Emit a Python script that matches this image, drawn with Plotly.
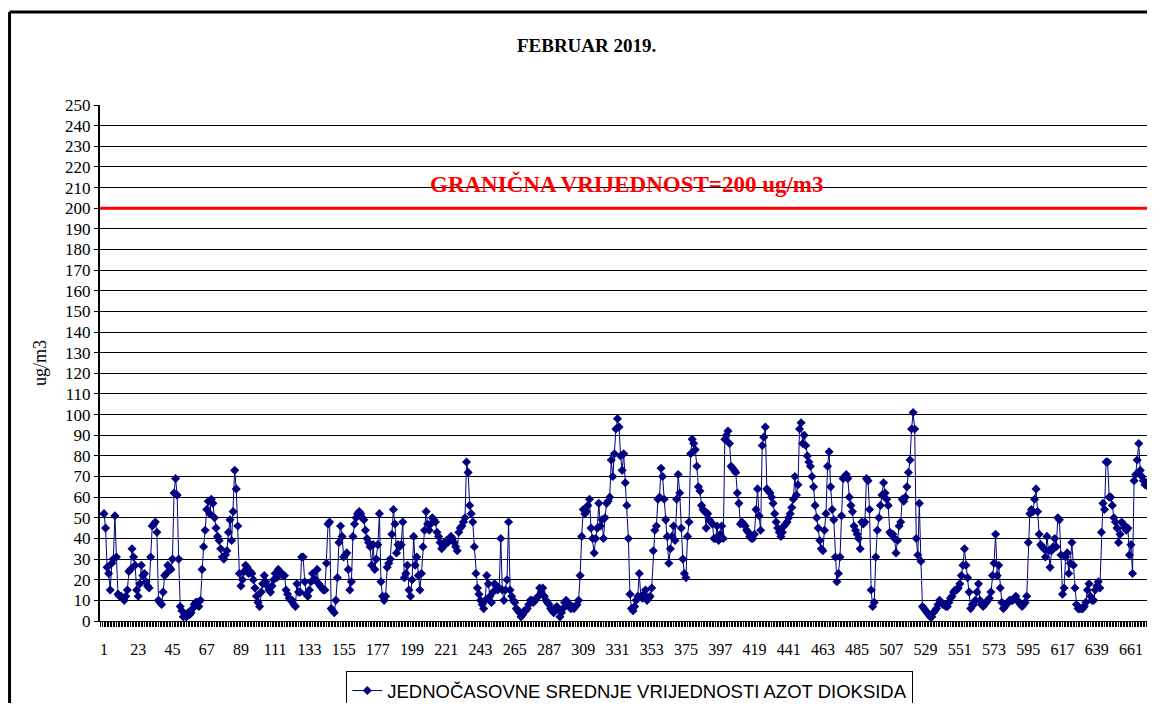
import plotly.graph_objects as go

# hourly NO2 means, february 2019
week1 = [52, 45, 26, 23, 15, 28, 30, 51, 31, 13, 12, 12, 11, 10, 12, 15, 24, 25, 35, 31, 27, 15, 12, 18,
         27, 22, 23, 19, 17, 16, 31, 46, 47, 48, 43, 10, 9, 8, 14, 22, 23, 27, 26, 25, 30, 62, 69, 61, 30, 7, 5, 2, 3, 2, 4,
         3, 4, 6, 8, 9, 9, 7, 10, 25, 36, 44, 54, 58, 52, 59, 57, 50, 45, 41, 39, 35, 31, 30, 32, 34, 43, 49, 39, 53, 73,
         64, 46, 23, 17, 20, 24, 27, 26, 23, 24, 23, 20, 16, 12, 9, 7, 14, 18, 22, 19, 17, 15, 14, 17, 20, 23,
         21, 25, 24, 23, 22, 22, 15, 13, 11, 10, 10, 8, 7, 18, 14, 14, 31, 31, 19, 13, 12, 15, 19, 23, 20, 20, 25, 18, 17, 16,
         15, 15, 28, 47, 48, 6, 5, 4, 10, 21, 38, 46, 41, 31, 32, 33, 25, 15, 19, 41, 47, 50, 52, 53, 52, 50, 49]
week2 = [44, 40, 38, 36, 27, 37, 25, 30, 37, 52, 19, 12, 10, 12, 26, 28, 30, 42, 54, 47, 33, 37, 36, 37, 48, 21, 23, 27, 15, 12,
         20, 41, 27, 31, 22, 15, 23, 36, 44, 53, 47, 44, 47, 50, 49, 48, 43, 41, 38, 35, 36, 38, 39, 38, 40, 41,
         40, 38, 36, 34, 43, 45, 46, 48, 50, 77, 72, 56, 52, 48, 36, 23, 16, 13, 10, 8, 6, 10, 22, 18, 12, 9, 14, 18, 17, 15,
         16, 40, 15, 10, 15, 20, 48, 15, 12, 10, 9, 6, 5, 4, 2, 3, 5, 5, 6, 8, 10, 10, 9, 10, 11, 12, 16,
         14, 16, 12, 10, 9, 8, 6, 5, 4, 6, 7, 6, 2, 4, 6, 9, 10, 9, 7, 6, 7, 6, 7, 8, 10, 22, 41, 54, 52, 53,
         56, 59, 45, 40, 33, 40, 45, 57, 46, 49, 40, 50, 57, 58, 60, 78, 70, 81, 93, 98, 94, 80, 73, 81, 67]
week3 = [56, 40,
         13, 6, 5, 7, 10, 12, 23, 12, 11, 13, 15, 10, 11, 12, 16, 34, 44, 46, 59, 60, 74, 70, 59, 49, 41, 28, 35, 41, 46, 39,
         59, 71, 62, 45, 30, 23, 21, 41, 48, 81, 88, 86, 83, 75, 65, 63, 56, 54, 53, 45, 52, 49, 48, 47, 40,
         40, 46, 39, 42, 46, 40, 88, 90, 92, 86, 75, 74, 73, 72, 62, 57, 47, 48, 47, 46, 44, 43, 41, 40, 40, 42, 54, 64, 51, 44,
         85, 89, 94, 64, 63, 62, 60, 57, 52, 48, 45, 43, 41, 43, 46, 47, 48, 50, 52, 55, 59, 70, 61, 66, 93, 96, 86,
         90, 85, 80, 77, 75, 70, 65, 56, 50, 45, 39, 35, 34, 44, 52, 75, 82, 65, 54, 49, 31, 19, 23, 31, 51, 69, 70, 71, 69, 60,
         56, 53, 46, 44, 42, 40, 35, 48, 47, 48, 69, 68, 54, 15, 7, 9, 31, 44, 50, 56, 61, 67, 62, 59]
week4 = [56, 43, 42,
         42, 40, 33, 39, 46, 48, 59, 58, 60, 65, 72, 78, 93, 101, 93, 40, 32, 57, 29, 7, 6, 5, 4, 3, 2, 2, 4, 5, 6, 8,
         10, 9, 8, 8, 7, 7, 9, 11, 12, 14, 15, 15, 16, 18, 22, 27, 35, 27, 21, 14, 6, 8, 8, 10, 14, 18,
         10, 8, 7, 8, 9, 10, 11, 14, 22, 28, 42, 22, 27, 16, 9, 6, 7, 8, 9, 10, 10, 10, 11, 12, 10, 9, 8, 7, 8, 9,
         12, 38, 52, 54, 53, 59, 64, 53, 42, 37, 36, 35, 31, 41, 34, 26, 34, 36, 40, 36, 50, 49, 32, 13, 16, 31,
         33, 23, 28, 38, 27, 16, 8, 6, 6, 6, 6, 7, 9, 15, 18, 12, 10, 10, 15, 17, 19, 16, 43, 57, 54, 77, 77, 60, 60, 56,
         50, 48, 45, 38, 42, 48, 47, 45, 44, 45, 32, 37, 23, 68, 71, 78, 86, 73, 70, 68, 66, 67, 65]

values = week1 + week2 + week3 + week4
hours = list(range(1, len(values) + 1))
tick_hours = list(range(1, 662, 22))
y_ticks = list(range(0, 251, 10))
limit = 200

serif = "Liberation Serif, Times New Roman, serif"
navy = "#000080"

fig = go.Figure()
fig.add_trace(go.Scatter(
    x=hours, y=values, mode="lines+markers",
    name="JEDNOČASOVNE SREDNJE VRIJEDNOSTI AZOT DIOKSIDA",
    line=dict(color=navy, width=1),
    marker=dict(symbol="diamond", size=7, color=navy),
))

# limit line + label
fig.add_shape(type="line", xref="paper", x0=0, x1=1, yref="y", y0=limit, y1=limit,
              line=dict(color="#ff0000", width=3))
fig.add_shape(type="rect", xref="paper", x0=0.296, x1=0.735, yref="y", y0=203, y1=218,
              fillcolor="white", line=dict(width=0), layer="between")
fig.add_annotation(x=0.503, xref="paper", y=211.7, yref="y", showarrow=False,
                   text="<b>GRANIČNA VRIJEDNOST=200 ug/m3</b>",
                   font=dict(family=serif, size=23, color="#ff0000"))

# outer frame of the original sheet
fig.add_shape(type="line", xref="paper", yref="paper", x0=-0.0864, x1=-0.0864, y0=-0.25, y1=1.18,
              line=dict(color="black", width=3))
fig.add_shape(type="line", xref="paper", yref="paper", x0=-0.0864, x1=1.0, y0=1.18, y1=1.18,
              line=dict(color="black", width=3))

fig.update_layout(
    width=1139, height=695,
    margin=dict(l=92, r=0, t=97, b=82, autoexpand=False),
    paper_bgcolor="white", plot_bgcolor="white",
    font=dict(family=serif, size=16, color="black"),
    title=dict(text="<b>FEBRUAR 2019.</b>", x=0.508, xanchor="center", y=0.9468, yanchor="middle",
               font=dict(family=serif, size=19, color="black")),
    showlegend=True,
    legend=dict(orientation="h", x=0.506, xanchor="center", yref="container", y=0.046, yanchor="top",
                bordercolor="black", borderwidth=1, bgcolor="white",
                font=dict(family="Liberation Sans, Arial, sans-serif", size=18.5, color="black")),
    xaxis=dict(range=[-1.57, 671.3], tickmode="array", tickvals=tick_hours,
               ticktext=[str(t) for t in tick_hours], ticks="outside", ticklen=5, tickcolor="black",
               showgrid=False, zeroline=False, showline=True, linecolor="black", linewidth=1,
               ticklabelstandoff=9, tickfont=dict(family=serif, size=16),
               minor=dict(tick0=1, dtick=1, ticks="outside", ticklen=5, tickcolor="black", showgrid=False)),
    yaxis=dict(range=[0, 250], tickmode="array", tickvals=y_ticks, ticks="outside", ticklen=4,
               tickcolor="black", showgrid=True, gridcolor="black", gridwidth=1,
               zeroline=False, showline=True, linecolor="black", linewidth=2,
               tickfont=dict(family=serif, size=17),
               title=dict(text="ug/m3", standoff=14, font=dict(family=serif, size=18))),
)

fig.write_html("out.html")
